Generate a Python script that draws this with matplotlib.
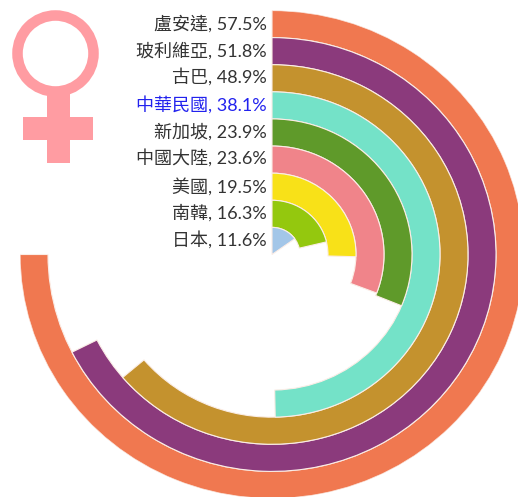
import numpy as np
import matplotlib
matplotlib.use("Agg")
import matplotlib.pyplot as plt
from matplotlib.patches import Circle, Rectangle

# outermost ring first
countries = ["盧安達", "玻利維亞", "古巴", "中華民國", "新加坡",
             "中國大陸", "美國", "南韓", "日本"]
values = [57.5, 51.8, 48.9, 38.1, 23.9, 23.6, 19.5, 16.3, 11.6]
colours = ["#F07850", "#8B3A7C", "#C4922E", "#74E2C8", "#5F9A2A",
           "#F0848A", "#F8E118", "#94C80E", "#A3C6E8"]
label_y = [24, 51, 77, 105, 132, 158, 187, 213, 240]

W, H = 518, 497
SYMBOL = "#FF9CA2"

plt.rcParams['font.family'] = ['Lato', 'Noto Sans CJK TC', 'DejaVu Sans']

fig = plt.figure(figsize=(W / 100, H / 100), dpi=100)

# the rings are slightly wider than tall in the original
cx, cy, rx, ry = 272, 254.5, 252, 244
ax = fig.add_axes([(cx - rx) / W, 1 - (cy + ry) / H, 2 * rx / W, 2 * ry / H],
                  projection="polar")
ax.set_aspect("auto")
ax.set_theta_zero_location("N")
ax.set_theta_direction(-1)
ax.set_ylim(0, len(values))
ax.axis("off")

full_sweep = 3 * np.pi / 2  # the largest value spans 270 degrees
for i, (value, colour) in enumerate(zip(values, colours)):
    ring = len(values) - 1 - i
    ax.bar(0, 1, width=value / max(values) * full_sweep, bottom=ring,
           align="edge", color=colour, edgecolor="#FBEDE6", linewidth=0.8)

# overlay in pixel coordinates for labels and the symbol
over = fig.add_axes([0, 0, 1, 1])
over.set_xlim(0, W)
over.set_ylim(H, 0)
over.axis("off")
over.patch.set_alpha(0)

for name, value, y in zip(countries, values, label_y):
    colour = "#2222EE" if name == "中華民國" else "#333333"
    over.text(267, y, f"{name}, {value}%", ha="right", va="center",
              fontsize=13, color=colour)

over.add_patch(Rectangle((47, 92), 23, 71, color=SYMBOL, lw=0))
over.add_patch(Rectangle((23, 117), 70, 23, color=SYMBOL, lw=0))
over.add_patch(Circle((55.5, 53.5), 38, fill=False, edgecolor=SYMBOL, lw=7.6))

fig.savefig("out.png", dpi=100)
